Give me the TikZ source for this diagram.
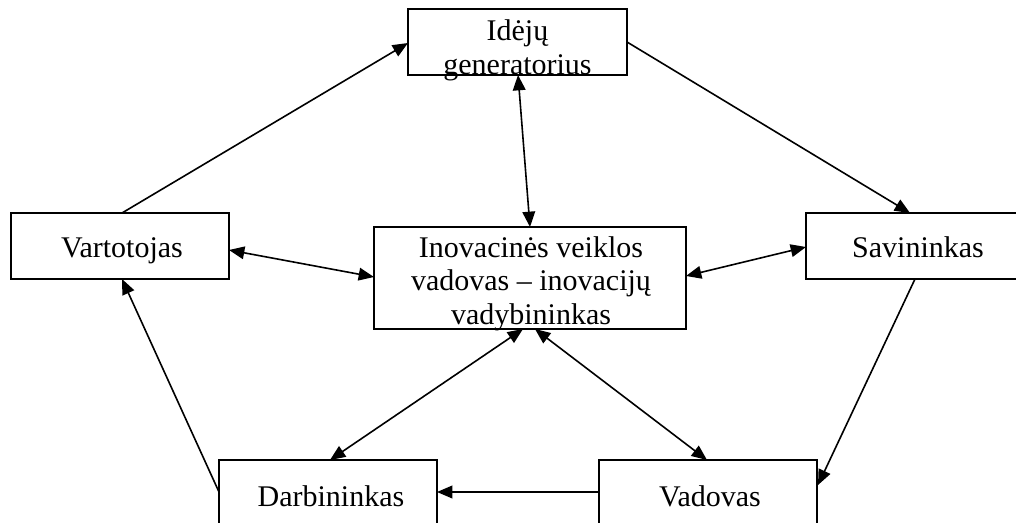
\documentclass[tikz,border=0pt]{standalone}
\usepackage{fontspec}
\setmainfont{Liberation Serif}
\usetikzlibrary{arrows.meta,calc}

\begin{document}
\begin{tikzpicture}[x=0.75pt,y=-0.75pt,
  box/.style={draw, line width=1.5pt, fill=white, inner sep=0pt, outer sep=0pt},
  sidebox/.style={box, minimum width=163.5pt, minimum height=49.5pt},
  lowbox/.style={box, minimum width=163.5pt, minimum height=52.5pt},
  lbl/.style={anchor=base, inner sep=0pt, font=\fontsize{22.5}{25}\selectfont},
  tip/.tip={Triangle[length=11.5pt,width=9.5pt]},
  link/.style={line width=1.2pt, -tip},
  both/.style={line width=1.2pt, tip-tip}]
\useasboundingbox (0,0) rectangle (1016,523);
\clip (0,0) rectangle (1016,523);

% boxes
\node[box, minimum width=164.25pt, minimum height=49.5pt] (gen) at (517.5,42) {};
\node[sidebox] (vart) at (120,246) {};
\node[box, minimum width=234pt, minimum height=76.5pt] (cen) at (530,278) {};
\node[sidebox] (sav) at (915,246) {};
\node[lowbox] (darb) at (328,495) {};
\node[lowbox] (vad) at (708,495) {};

% box texts
\node[lbl] (genT) at (517.5,41) {\parbox[t]{200pt}{\centering Idėjų\\generatorius}};
\node[lbl] (vartT) at (122,258) {Vartotojas};
\node[lbl] (cenT) at (531,257.5) {\parbox[t]{240pt}{\centering Inovacinės veiklos\\vadovas – inovacijų\\vadybininkas}};
\node[lbl] (savT) at (918,258) {Savininkas};
\node[lbl] (darbT) at (331,506) {Darbininkas};
\node[lbl] (vadT) at (710,506) {Vadovas};

% outer ring
\draw[link] ($(vart.north)+(2,0)$) -- ($(gen.west)+(0,1)$);
\draw[link] (gen.east) -- ($(sav.north)+(-5,0)$);
\draw[link] (sav.south) -- ($(vad.east)+(1,-10)$);
\draw[link] ($(vad.west)+(0,-3)$) -- ($(darb.east)+(0,-3)$);
\draw[link] ($(darb.west)+(0,-3)$) -- ($(vart.south)+(2,0)$);

% links to the centre
\draw[both] ($(gen.south)+(0.5,0)$) -- (cen.north);
\draw[both] ($(vart.east)+(0,4)$) -- ($(cen.west)+(0,-1)$);
\draw[both] ($(cen.east)+(0,-2)$) -- ($(sav.west)+(0,1)$);
\draw[both] ($(cen.south)+(-7,0)$) -- ($(darb.north)+(2,0)$);
\draw[both] ($(cen.south)+(5,0)$) -- ($(vad.north)+(-1,0)$);
\end{tikzpicture}
\end{document}
